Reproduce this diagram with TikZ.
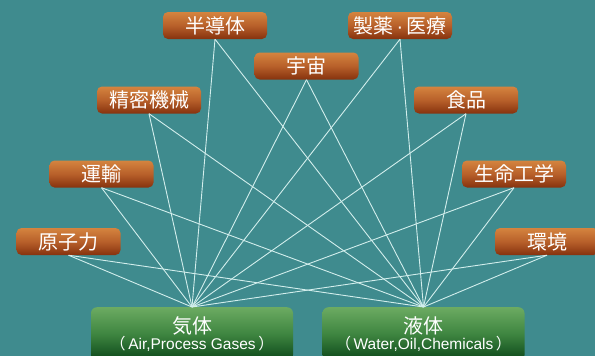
\documentclass[tikz,border=0pt]{standalone}
\usepackage{fontspec}
\setmainfont{Noto Sans CJK JP}
\newfontfamily\latinfont{Liberation Sans}
\definecolor{bg}{HTML}{3F8B8E}
\definecolor{orTop}{HTML}{D4843F}
\definecolor{orMid}{HTML}{B8602A}
\definecolor{orBot}{HTML}{86320E}
\definecolor{grTop}{HTML}{6CAB62}
\definecolor{grMid}{HTML}{3E8540}
\definecolor{grBot}{HTML}{0A4518}
\definecolor{link}{HTML}{D2EEEC}
\begin{document}
\begin{tikzpicture}[x=1pt,y=-1pt,
  field/.style={rounded corners=5pt, minimum width=104pt, minimum height=27pt,
    top color=orTop, bottom color=orBot, middle color=orMid, text=white,
    inner sep=0pt, font=\fontsize{20}{22}\selectfont},
  medium/.style={rounded corners=6pt, minimum width=202pt, minimum height=54pt,
    top color=grTop, bottom color=grBot, middle color=grMid, text=white,
    inner sep=0pt, align=center, anchor=north},
  conn/.style={draw=link, line width=0.9pt}]
\fill[bg] (0,0) rectangle (595,356);
\useasboundingbox (0,0) rectangle (595,356);
\node[field] (hdt) at (215,25.5) {半導体};
\node[field] (uch) at (306.5,66) {宇宙};
\node[field] (iry) at (400,25.5) {製薬{\latinfont\,·\,}医療};
\node[field] (smk) at (149,100) {精密機械};
\node[field] (shk) at (466,100) {食品};
\node[field] (uny) at (101.5,174) {運輸};
\node[field] (smk2) at (514,174) {生命工学};
\node[field] (gsr) at (68.5,241.5) {原子力};
\node[field] (kky) at (547,241.5) {環境};
\node[medium] (gas) at (192,307) {\fontsize{20}{21}\selectfont 気体\\[0pt]\fontsize{15.5}{17}\selectfont （{\latinfont\,Air,Process Gases\,}）};
\node[medium] (liq) at (423.5,307) {\fontsize{20}{21}\selectfont 液体\\[0pt]\fontsize{15.5}{17}\selectfont （{\latinfont\,Water,Oil,Chemicals\,}）};
\foreach \n in {hdt,uch,iry,smk,shk,uny,smk2,gsr,kky}{
  \draw[conn] (\n.south) -- (gas.north);
  \draw[conn] (\n.south) -- (liq.north);
}
\end{tikzpicture}
\end{document}
